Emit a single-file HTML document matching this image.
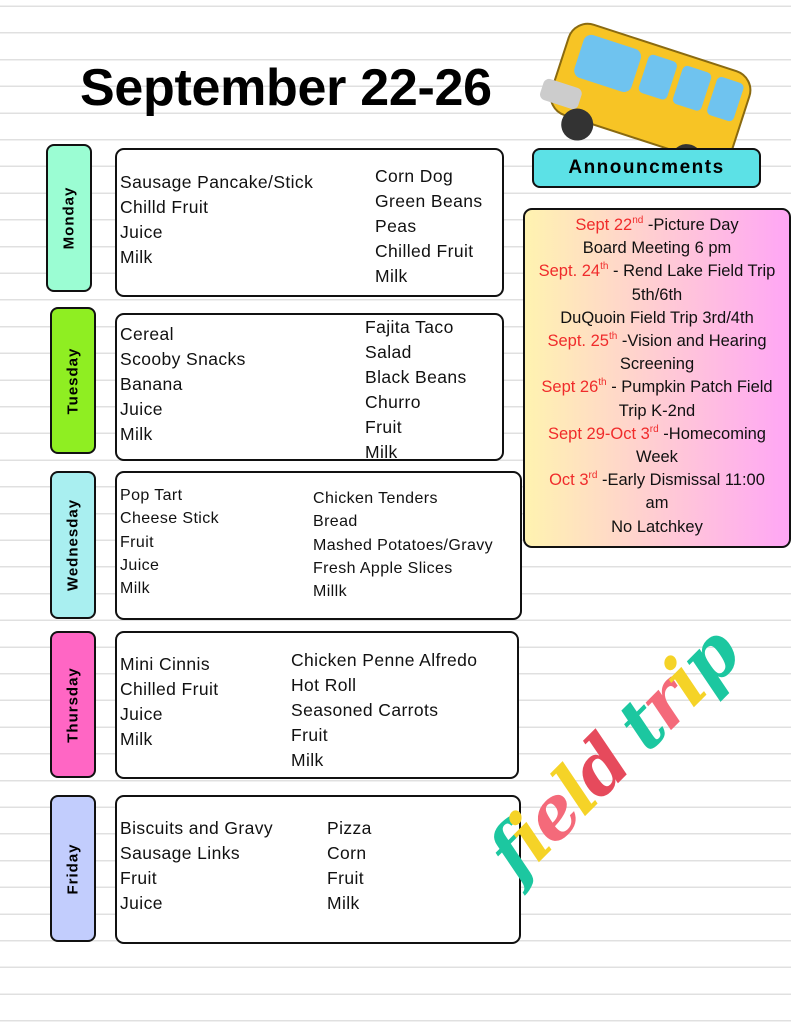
<!DOCTYPE html>
<html><head><meta charset="utf-8"><style>
body{margin:0;width:791px;height:1024px;position:relative;overflow:hidden;font-family:"Liberation Sans",sans-serif;
background:#fff repeating-linear-gradient(to bottom,transparent 0,transparent 5.5px,#e0e0e0 5.5px,#e0e0e0 7px,transparent 7px,transparent 26.7px);}
.a{position:absolute}
.tab{position:absolute;border:2px solid #111;border-radius:8px;box-sizing:border-box;width:46px;}
.tab span{position:absolute;left:50%;top:50%;transform:translate(-50%,-50%) rotate(-90deg);font-weight:bold;font-size:15px;letter-spacing:1px;white-space:nowrap}
.box{position:absolute;border:2px solid #111;border-radius:9px;background:#fff;box-sizing:border-box}
.col{position:absolute;font-size:17.5px;letter-spacing:0.4px;line-height:25px;color:#111}
.r{color:#f02b2b}
sup{font-size:10px;line-height:0;vertical-align:7px}
</style></head><body>
<div class="a" style="left:80px;top:58px;font-size:52px;font-weight:bold;letter-spacing:-0.3px">September 22-26</div>

<svg class="a" style="left:525px;top:14px" width="240" height="170" viewBox="0 0 240 170">
<g transform="rotate(18 120 80)">
<rect x="30" y="30" width="190" height="95" rx="20" fill="#f7c425" stroke="#8a6a10" stroke-width="2"/>
<rect x="45" y="40" width="60" height="45" rx="8" fill="#6fc3ef"/>
<rect x="112" y="40" width="30" height="40" rx="5" fill="#6fc3ef"/>
<rect x="148" y="40" width="30" height="40" rx="5" fill="#6fc3ef"/>
<rect x="184" y="40" width="28" height="40" rx="5" fill="#6fc3ef"/>
<rect x="20" y="95" width="40" height="22" rx="6" fill="#ccc"/>
<circle cx="65" cy="130" r="16" fill="#333"/><circle cx="180" cy="130" r="16" fill="#333"/>
</g></svg>

<div class="a" style="left:532px;top:148px;width:229px;height:40px;background:#5ce1e6;border:2px solid #111;border-radius:8px;box-sizing:border-box;text-align:center;font-weight:bold;font-size:19px;line-height:36px;letter-spacing:1.5px">Announcments</div>
<div class="a" style="left:523px;top:208px;width:268px;height:340px;border:2px solid #111;border-radius:9px;box-sizing:border-box;background:linear-gradient(to right,#fff3b0,#ffa6f5);text-align:center;font-size:16.5px;line-height:23.2px;padding-top:4px;color:#111">
<span class="r">Sept 22<sup>nd</sup></span> -Picture Day<br>Board Meeting 6 pm<br><span class="r">Sept. 24<sup>th</sup></span> - Rend Lake Field Trip<br>5th/6th<br>DuQuoin Field Trip 3rd/4th<br><span class="r">Sept. 25<sup>th</sup></span> -Vision and Hearing<br>Screening<br><span class="r">Sept 26<sup>th</sup></span> - Pumpkin Patch Field<br>Trip K-2nd<br><span class="r">Sept 29-Oct 3<sup>rd</sup></span> -Homecoming<br>Week<br><span class="r">Oct 3<sup>rd</sup></span> -Early Dismissal 11:00<br>am<br>No Latchkey</div>

<div class="tab" style="left:46px;top:144px;height:148px;background:#9bfdd3"><span>Monday</span></div>
<div class="box" style="left:115px;top:148px;width:389px;height:149px"></div>
<div class="col" style="left:120px;top:170px">Sausage Pancake/Stick<br>Chilld Fruit<br>Juice<br>Milk</div>
<div class="col" style="left:375px;top:164px">Corn Dog<br>Green Beans<br>Peas<br>Chilled Fruit<br>Milk</div>

<div class="tab" style="left:50px;top:307px;height:147px;background:#8fee22"><span>Tuesday</span></div>
<div class="box" style="left:115px;top:313px;width:389px;height:148px"></div>
<div class="col" style="left:120px;top:322px">Cereal<br>Scooby Snacks<br>Banana<br>Juice<br>Milk</div>
<div class="col" style="left:365px;top:315px">Fajita Taco<br>Salad<br>Black Beans<br>Churro<br>Fruit<br>Milk</div>

<div class="tab" style="left:50px;top:471px;height:148px;background:#a9eff0"><span>Wednesday</span></div>
<div class="box" style="left:115px;top:471px;width:407px;height:149px"></div>
<div class="col" style="left:120px;top:484px;font-size:16px;line-height:23.3px">Pop Tart<br>Cheese Stick<br>Fruit<br>Juice<br>Milk</div>
<div class="col" style="left:313px;top:487px;font-size:16px;line-height:23.3px">Chicken Tenders<br>Bread<br>Mashed Potatoes/Gravy<br>Fresh Apple Slices<br>Millk</div>

<div class="tab" style="left:50px;top:631px;height:147px;background:#ff66c4"><span>Thursday</span></div>
<div class="box" style="left:115px;top:631px;width:404px;height:148px"></div>
<div class="col" style="left:120px;top:652px">Mini Cinnis<br>Chilled Fruit<br>Juice<br>Milk</div>
<div class="col" style="left:291px;top:648px">Chicken Penne Alfredo<br>Hot Roll<br>Seasoned Carrots<br>Fruit<br>Milk</div>

<div class="tab" style="left:50px;top:795px;height:147px;background:#c2cdfd"><span>Friday</span></div>
<div class="box" style="left:115px;top:795px;width:406px;height:149px"></div>
<div class="col" style="left:120px;top:816px">Biscuits and Gravy<br>Sausage Links<br>Fruit<br>Juice</div>
<div class="col" style="left:327px;top:816px">Pizza<br>Corn<br>Fruit<br>Milk</div>

<div class="a" style="transform:rotate(-45deg);transform-origin:left top;font-family:'DejaVu Serif',serif;font-style:italic;font-weight:bold;font-size:72px;white-space:nowrap;letter-spacing:-4px;top:835px;left:470px">
<span style="color:#1cc7a0">f</span><span style="color:#f5d327">i</span><span style="color:#f46a7a">e</span><span style="color:#f5d327">l</span><span style="color:#e64a5c">d</span> <span style="color:#1cc7a0">t</span><span style="color:#f46a7a">r</span><span style="color:#f5d327">i</span><span style="color:#1cc7a0">p</span></div>
</body></html>
